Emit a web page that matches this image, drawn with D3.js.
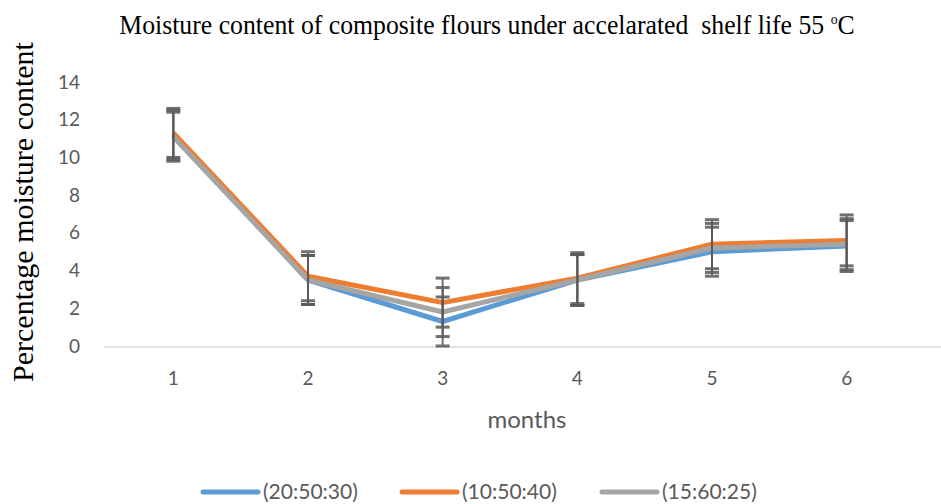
<!DOCTYPE html>
<html lang="en">
<head>
    <meta charset="UTF-8">
    <title>Moisture content of composite flours</title>
    <script src="https://d3js.org/d3.v7.min.js"></script>
    <style>
        body { margin: 0; background: #fff; }
        .tick text { font-family: Lato, sans-serif; font-size: 19px; fill: #595959; }
        .serif { font-family: "Liberation Serif", "Times New Roman", serif; fill: #000; }
        .sans { font-family: Lato, sans-serif; fill: #595959; }
    </style>
</head>
<body>
    <div id="chart"></div>
    <script>
        // data
        const months = ["1", "2", "3", "4", "5", "6"];
        const seriesNames = ["(20:50:30)", "(10:50:40)", "(15:60:25)"];
        const seriesColors = ["#5B9BD5", "#ED7D31", "#A5A5A5"];
        const blueVals = [11.2, 3.5, 1.3, 3.5, 5.0, 5.3];
        const orangeVals = [11.3, 3.7, 2.3, 3.6, 5.4, 5.6];
        const grayVals = [11.1, 3.5, 1.8, 3.5, 5.2, 5.4];
        const errVals = [1.3, 1.3, 1.3, 1.35, 1.3, 1.35];
        const yTicks = [0, 2, 4, 6, 8, 10, 12, 14];

        const width = 941, height = 504;
        const svg = d3.select("#chart").append("svg")
            .attr("width", width)
            .attr("height", height);

        const x = d3.scaleBand().domain(months).range([106, 914]);
        const y = d3.scaleLinear().domain([0, 14]).range([346, 82]);

        // title (slightly condensed like the reference)
        const title = svg.append("g")
            .attr("transform", "translate(487,34) scale(0.92,1)")
            .append("text")
            .attr("class", "serif")
            .attr("text-anchor", "middle")
            .style("font-size", "28px");
        title.append("tspan").text("Moisture content of composite flours under accelarated\u00a0 shelf life 55 ");
        title.append("tspan").attr("dy", -10).style("font-size", "15px").text("o");
        title.append("tspan").attr("dy", 10).text("C");

        // y axis title
        svg.append("text")
            .attr("class", "serif")
            .attr("transform", "translate(33,212) rotate(-90)")
            .attr("text-anchor", "middle")
            .style("font-size", "30px")
            .text("Percentage  moisture content");

        // baseline
        svg.append("line")
            .attr("x1", 104).attr("x2", width)
            .attr("y1", y(0) + 1).attr("y2", y(0) + 1)
            .attr("stroke", "#d9d9d9").attr("stroke-width", 1.5);

        // y axis labels
        const yAxis = svg.append("g")
            .attr("transform", "translate(80,0)")
            .call(d3.axisLeft(y).tickValues(yTicks).tickSize(0).tickPadding(0));
        yAxis.select(".domain").remove();

        // x axis labels
        const xAxis = svg.append("g")
            .attr("transform", `translate(0,${y(0) + 25})`)
            .call(d3.axisBottom(x).tickSize(0).tickPadding(0));
        xAxis.select(".domain").remove();

        svg.append("text")
            .attr("class", "sans")
            .attr("x", 527).attr("y", 428)
            .attr("text-anchor", "middle")
            .style("font-size", "24px")
            .text("months");

        const allSeries = [blueVals, orangeVals, grayVals];
        const cx = m => x(m) + x.bandwidth() / 2;

        const line = d3.line()
            .x((d, i) => cx(months[i]))
            .y(d => y(d));

        allSeries.forEach((vals, s) => {
            svg.append("path")
                .datum(vals)
                .attr("d", line)
                .attr("fill", "none")
                .attr("stroke", seriesColors[s])
                .attr("stroke-width", 5)
                .attr("stroke-linejoin", "round");
        });

        // error bars
        allSeries.forEach((vals, s) => {
            const g = svg.append("g").attr("stroke", "#595959").attr("stroke-width", 2).attr("opacity", 0.85);
            vals.forEach((v, i) => {
                const px = cx(months[i]);
                const lo = y(v - errVals[i]), hi = y(v + errVals[i]);
                g.append("line").attr("x1", px).attr("x2", px).attr("y1", lo).attr("y2", hi);
                g.append("line").attr("x1", px - 7).attr("x2", px + 7).attr("y1", lo).attr("y2", lo).attr("stroke-width", 3);
                g.append("line").attr("x1", px - 7).attr("x2", px + 7).attr("y1", hi).attr("y2", hi).attr("stroke-width", 3);
            });
        });

        // legend
        const legendX = [201, 400, 600];
        seriesNames.forEach((name, s) => {
            const lg = svg.append("g").attr("transform", `translate(${legendX[s]},492)`);
            lg.append("line")
                .attr("x1", 2).attr("x2", 57)
                .attr("stroke", seriesColors[s]).attr("stroke-width", 5)
                .attr("stroke-linecap", "round");
            lg.append("text")
                .attr("class", "sans")
                .attr("x", 62).attr("y", 7)
                .style("font-size", "21px")
                .text(name);
        });
    </script>
</body>
</html>
